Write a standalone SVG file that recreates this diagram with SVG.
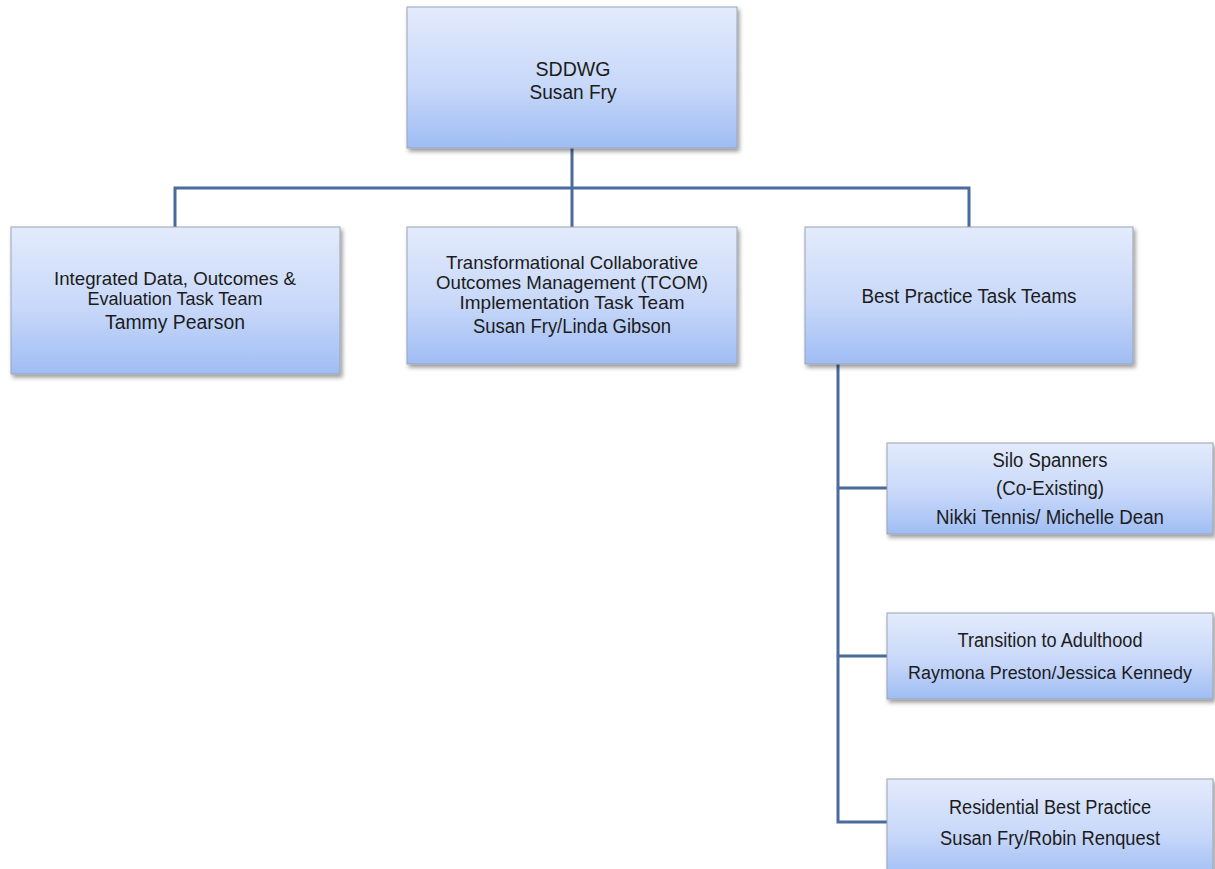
<svg xmlns="http://www.w3.org/2000/svg" width="1215" height="869" viewBox="0 0 1215 869">
<style>
.box{fill:url(#g);stroke:#9aa3b3;stroke-width:1;filter:url(#sh)}
.t{font-family:"Liberation Sans",Arial,sans-serif;font-size:20px;fill:#1c1c1c;text-anchor:middle}
.s{font-size:18.5px}
.c{fill:none;stroke:#4a6b9c;stroke-width:3}
</style>
<defs>
<linearGradient id="g" x1="0" y1="0" x2="0" y2="1">
<stop offset="0" stop-color="#e3ebfc"/>
<stop offset="0.55" stop-color="#c8d8f9"/>
<stop offset="1" stop-color="#9fbdf4"/>
</linearGradient>
<filter id="sh" x="-5%" y="-5%" width="115%" height="120%">
<feDropShadow dx="2" dy="3" stdDeviation="2" flood-color="#000" flood-opacity="0.4"/>
</filter>
</defs>
<g id="connectors">
<path class="c" d="M572 148 V188"/>
<path class="c" d="M175 227 V188 H969 V227"/>
<path class="c" d="M572 188 V227"/>
<path class="c" d="M838 364 V822 H887"/>
<path class="c" d="M838 488 H887"/>
<path class="c" d="M838 656 H887"/>
</g>
<g id="sddwg">
<rect class="box" x="407" y="7" width="330" height="141"/>
<text class="t" x="573" y="76" textLength="75" lengthAdjust="spacingAndGlyphs">SDDWG</text>
<text class="t" x="573" y="99" textLength="87" lengthAdjust="spacingAndGlyphs">Susan Fry</text>
</g>
<g id="integrated">
<rect class="box" x="11" y="227" width="329" height="147"/>
<text class="t s" x="175" y="285" textLength="242" lengthAdjust="spacingAndGlyphs">Integrated Data, Outcomes &amp;</text>
<text class="t s" x="175" y="305" textLength="175" lengthAdjust="spacingAndGlyphs">Evaluation Task Team</text>
<text class="t" x="175" y="329" textLength="140" lengthAdjust="spacingAndGlyphs">Tammy Pearson</text>
</g>
<g id="tcom">
<rect class="box" x="407" y="227" width="330" height="137"/>
<text class="t s" x="572" y="269" textLength="252" lengthAdjust="spacingAndGlyphs">Transformational Collaborative</text>
<text class="t s" x="572" y="289" textLength="272" lengthAdjust="spacingAndGlyphs">Outcomes Management (TCOM)</text>
<text class="t s" x="572" y="309" textLength="225" lengthAdjust="spacingAndGlyphs">Implementation  Task Team</text>
<text class="t" x="572" y="333" textLength="198" lengthAdjust="spacingAndGlyphs">Susan Fry/Linda Gibson</text>
</g>
<g id="bestpractice">
<rect class="box" x="805" y="227" width="328" height="137"/>
<text class="t" x="969" y="303" textLength="215" lengthAdjust="spacingAndGlyphs">Best Practice Task Teams</text>
</g>
<g id="silo">
<rect class="box" x="887" y="443" width="326" height="91"/>
<text class="t" x="1050" y="467" textLength="115" lengthAdjust="spacingAndGlyphs">Silo Spanners</text>
<text class="t" x="1050" y="495" textLength="108" lengthAdjust="spacingAndGlyphs">(Co-Existing)</text>
<text class="t" x="1050" y="524" textLength="228" lengthAdjust="spacingAndGlyphs">Nikki Tennis/ Michelle Dean</text>
</g>
<g id="transition">
<rect class="box" x="887" y="613" width="326" height="86"/>
<text class="t" x="1050" y="647" textLength="185" lengthAdjust="spacingAndGlyphs">Transition to Adulthood</text>
<text class="t" x="1050" y="679" style="font-size:18px" textLength="284" lengthAdjust="spacingAndGlyphs">Raymona Preston/Jessica Kennedy</text>
</g>
<g id="residential">
<rect class="box" x="887" y="779" width="326" height="100"/>
<text class="t" x="1050" y="814" textLength="202" lengthAdjust="spacingAndGlyphs">Residential Best Practice</text>
<text class="t" x="1050" y="845" textLength="220" lengthAdjust="spacingAndGlyphs">Susan Fry/Robin Renquest</text>
</g>
</svg>
